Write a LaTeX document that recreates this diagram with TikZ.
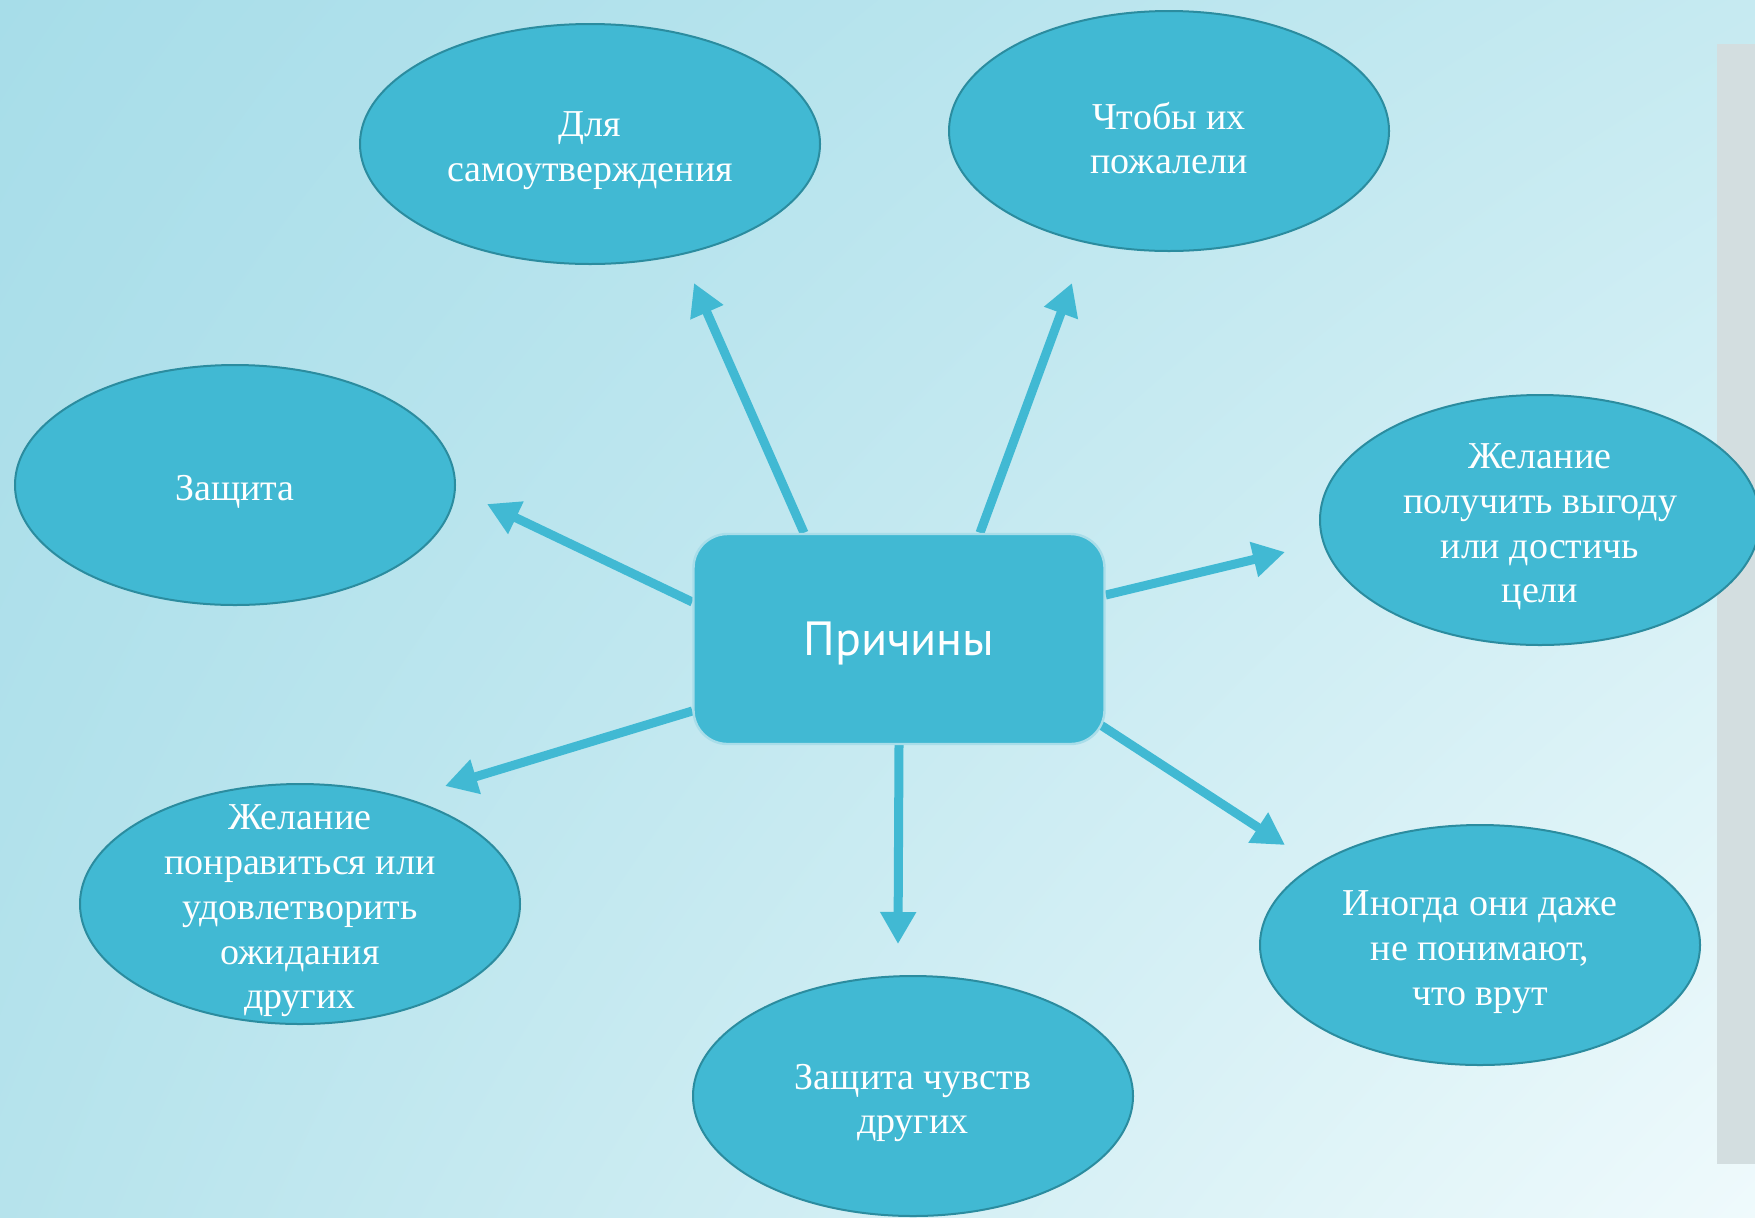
\documentclass[tikz,border=0pt]{standalone}
\usepackage{fontspec}
\setmainfont{Liberation Serif}
\newfontfamily\headfont{PT Sans}
\usetikzlibrary{positioning,shapes.geometric,arrows.meta,backgrounds,shadings}
\definecolor{bubblefill}{HTML}{41B9D3}
\definecolor{bubbleline}{HTML}{2B8C9F}
\definecolor{boxedge}{HTML}{A9DDE9}
\definecolor{bgtl}{HTML}{A7DDE9}
\definecolor{bgtr}{HTML}{C6EAF1}
\definecolor{bgbl}{HTML}{B6E3EC}
\definecolor{bgbr}{HTML}{EFFAFC}
\definecolor{stripgray}{HTML}{D3DEE0}
\tikzset{bubble/.style={ellipse, draw=bubbleline, line width=1pt, fill=bubblefill, minimum width=220pt, minimum height=120pt, inner sep=0pt}}
\tikzset{btext/.style={text=white, align=center, yshift=-3.5pt, font=\fontsize{19}{22.4}\selectfont}}
\tikzset{causebox/.style={rectangle, rounded corners=17pt, fill=bubblefill, draw=boxedge, line width=1.2pt, minimum width=205.5pt, minimum height=105pt, text=white, text depth=0pt, font=\headfont\fontsize{24}{28}\selectfont}}
\tikzset{arr/.style={draw=bubblefill, line width=4.5pt, -{Triangle[length=16pt,width=17pt]}}}
\begin{document}
\begin{tikzpicture}[x=0.5pt,y=-0.5pt]
\useasboundingbox (0,0) rectangle (1755,1217);
                \node[causebox] (cause) at (899,639) {Причины};
                %
                \node[bubble, minimum width=230pt, label={[btext]center:{Для\\самоутверждения}}] (self) at (590,144) {};
                \node[bubble, label={[btext]center:{Чтобы их\\пожалели}}] (pity) at (1169,131) {};
                \node[bubble, label={[btext]center:{Защита}}] (def) at (235,485) {};
                \node[bubble, minimum height=125pt, label={[btext]center:{Желание\\получить выгоду\\или достичь\\цели}}] (gain) at (1540,520) {};
                \node[bubble, label={[btext]center:{Желание\\понравиться или\\удовлетворить\\ожидания\\других}}] (please) at (300,904) {};
                \node[bubble, label={[btext]center:{Иногда они даже\\не понимают,\\что врут}}] (unaware) at (1480,945) {};
                \node[bubble, label={[btext]center:{Защита чувств\\других}}] (feel) at (913,1096) {};
                %
                \coordinate (tself) at (694,283);
                \coordinate (tpity) at (1072,283);
                \coordinate (tdef) at (487,504);
                \coordinate (tgain) at (1285,552);
                \coordinate (tplease) at (445,786);
                \coordinate (tunaware) at (1285,845);
                \coordinate (tfeel) at (898,944);
                %
                \begin{scope}[on background layer]
                \shade[upper left=bgtl, upper right=bgtr, lower left=bgbl, lower right=bgbr] (0,0) rectangle (1755,1217);
                \fill[stripgray] (1717,44) rectangle (1755,1164);
                \draw[arr] ([xshift=-47.5pt]cause.north) to (tself);
                \draw[arr] ([xshift=40.5pt]cause.north) to (tpity);
                \draw[arr] ([yshift=18.5pt]cause.west) to (tdef);
                \draw[arr] ([yshift=22pt]cause.east) to (tgain);
                \draw[arr] ([yshift=-36pt]cause.west) to (tplease);
                \draw[arr] ([xshift=-2.5pt,yshift=-43pt]cause.east) to (tunaware);
                \draw[arr] (cause.south) to (tfeel);
                \end{scope}
                %
\end{tikzpicture}
\end{document}
